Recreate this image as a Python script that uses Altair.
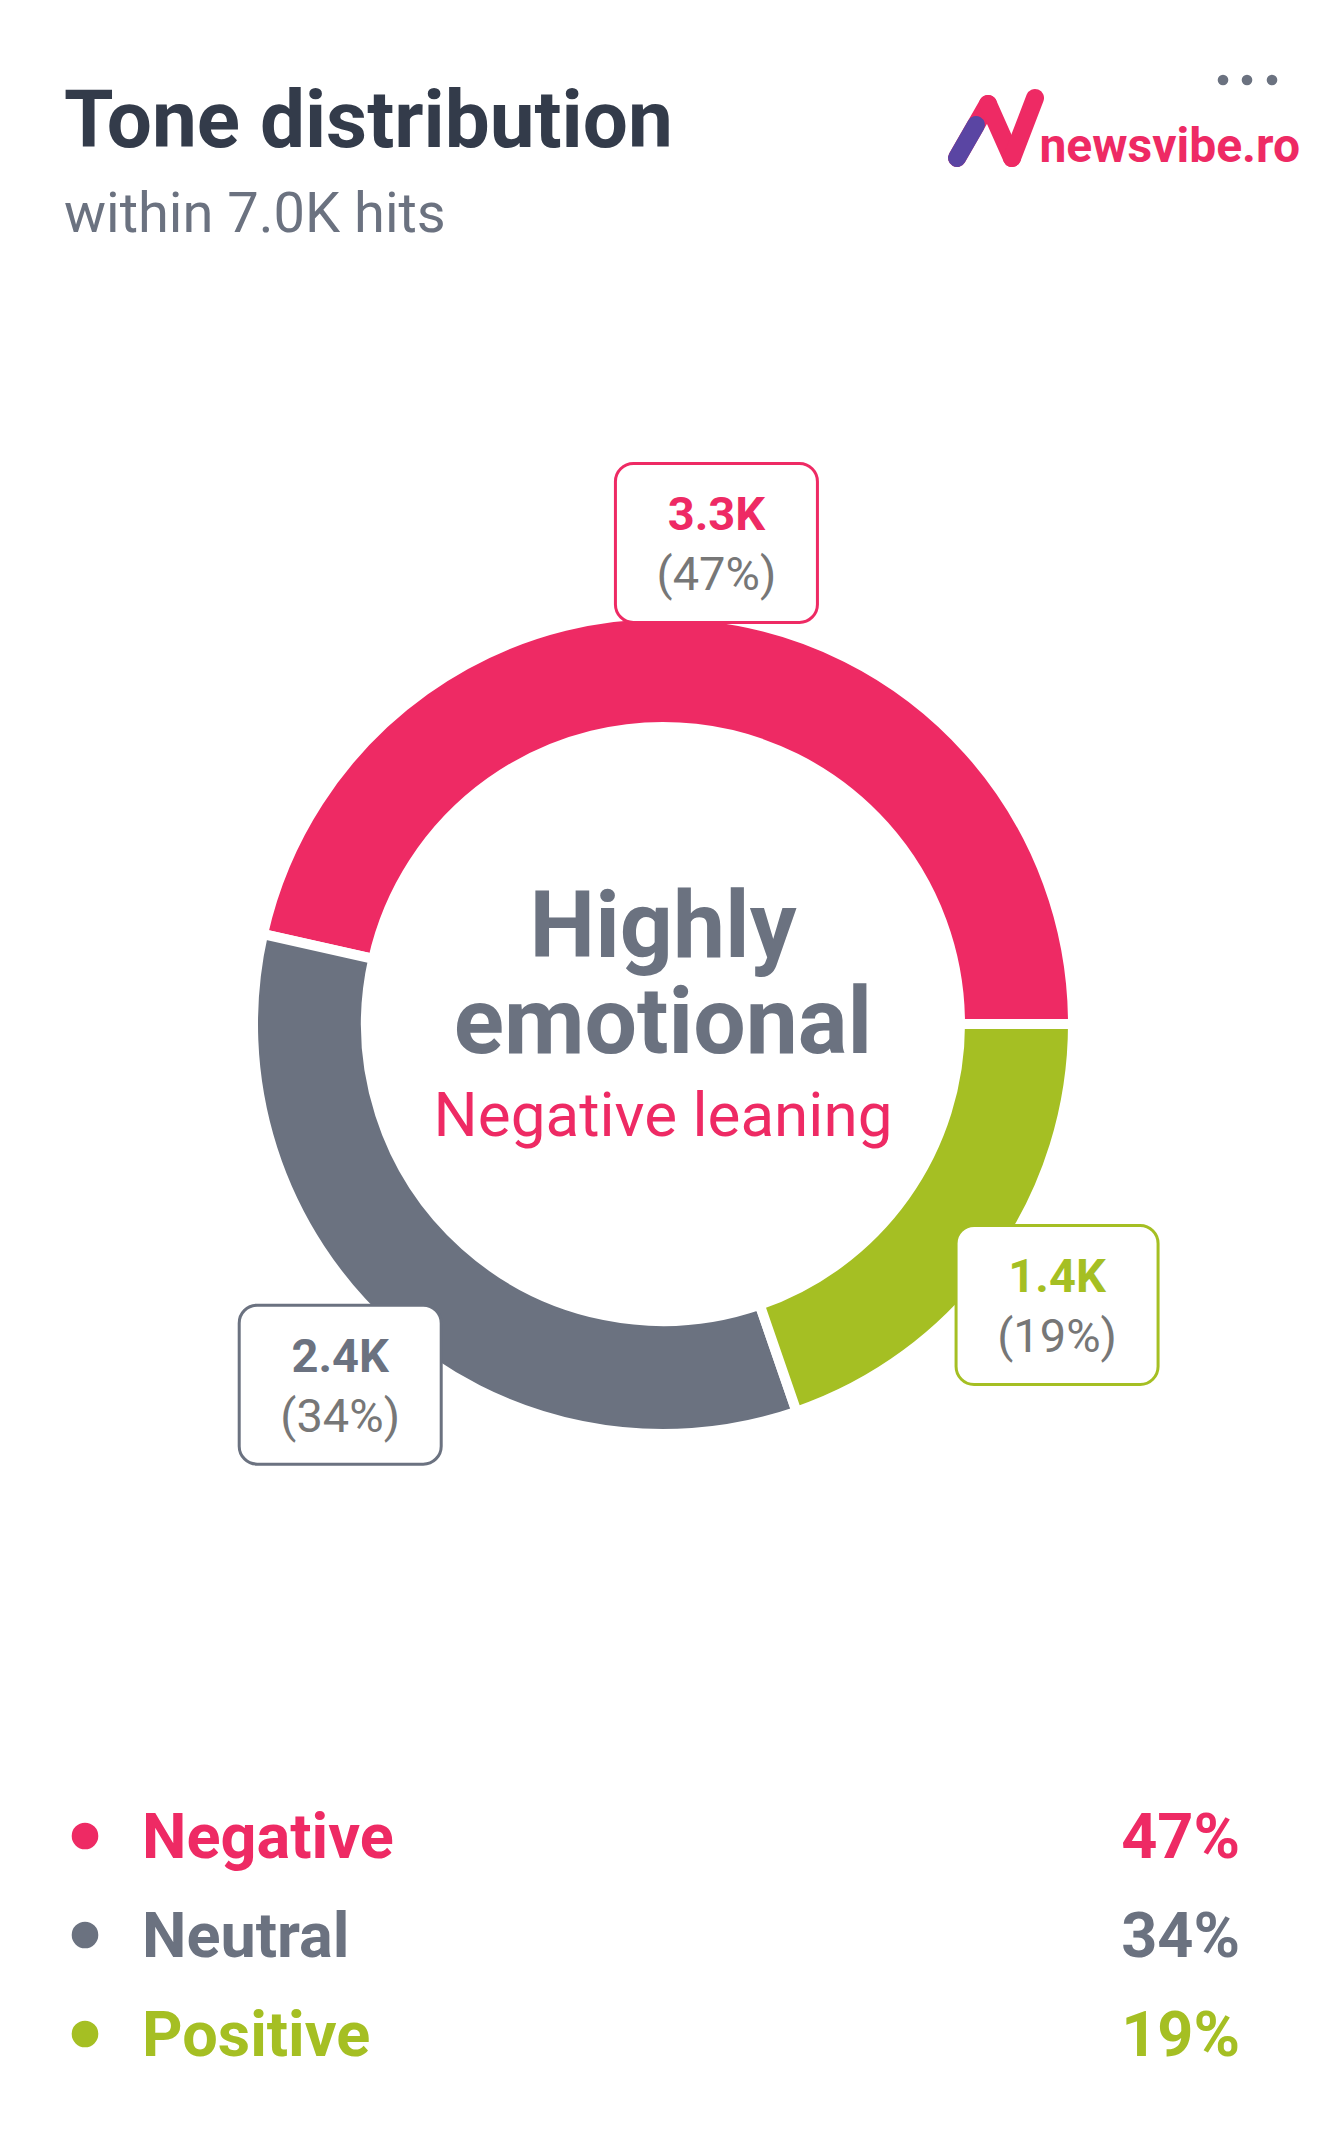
import math
import altair as alt
import pandas as pd

# ---------------- data ----------------
tones = ["Negative", "Neutral", "Positive"]
counts_k = [3.3, 2.4, 1.4]
count_labels = ["3.3K", "2.4K", "1.4K"]
pcts = [47, 34, 19]
colors = ["#EE2A64", "#6B7280", "#A5BF23"]
ring_order = [2, 1, 0]  # clockwise from 3 o'clock: Positive, Neutral, Negative

title_text = "Tone distribution"
subtitle_text = "within 7.0K hits"
center_lines = ["Highly", "emotional"]
center_sub = "Negative leaning"
logo_text = "newsvibe.ro"

# ---------------- layout ----------------
OFF = 8
W, H = 1312, 2125
CX, CY = 663, 1024
R_OUT, R_IN = 410, 297
R_LABEL = 484
BOX_W, BOX_H = 202, 159
FONT = "Roboto"
DARK = "#333B4A"
GRAY = "#6B7280"
PCT_GRAY = "#777777"
PINK = colors[0]

df = pd.DataFrame({"tone": tones, "count": counts_k, "label": count_labels,
                   "pct": pcts, "ord": ring_order})
df["pct_label"] = ["(" + str(p) + "%)" for p in df["pct"]]
ring = df.sort_values("ord").reset_index(drop=True)
total = ring["count"].sum()
mid = (ring["count"].cumsum() - ring["count"] / 2) / total
ang = math.pi / 2 + mid * 2 * math.pi
ring["bx"] = CX + R_LABEL * ang.apply(math.sin)
ring["by"] = CY - R_LABEL * ang.apply(math.cos)
ring["x1"] = ring["bx"] - BOX_W / 2
ring["x2"] = ring["bx"] + BOX_W / 2
ring["y1"] = ring["by"] - BOX_H / 2
ring["y2"] = ring["by"] + BOX_H / 2
ring["ty"] = ring["by"] - 13
ring["py"] = ring["by"] + 47

legend = df.copy()
legend["row"] = range(len(legend))
legend["base_y"] = 1858 + legend["row"] * 99
legend["dot_y"] = legend["base_y"] - 22

xs = alt.Scale(domain=[OFF, OFF + W], range=[0, W], nice=False, zero=False)
ys = alt.Scale(domain=[OFF, OFF + H], range=[0, H], nice=False, zero=False)
cscale = alt.Scale(domain=tones, range=colors)

one = pd.DataFrame({"k": [0]})


def text_layer(txt, x, y, size, weight, color, align="left", font=FONT, italic=False):
    return alt.Chart(pd.DataFrame({"t": [txt]})).mark_text(
        font=font, fontSize=size, fontWeight=weight, color=color, align=align,
        baseline="alphabetic", fontStyle="italic" if italic else "normal",
    ).encode(x=alt.value(x - OFF), y=alt.value(y - OFF), text="t:N")


def rule_layer(x, y, x2, y2, color, width):
    return alt.Chart(one).mark_rule(color=color, strokeWidth=width, strokeCap="round").encode(
        x=alt.value(x - OFF), y=alt.value(y - OFF), x2=alt.value(x2 - OFF), y2=alt.value(y2 - OFF))


def dot_layer(x, y, color, d):
    return alt.Chart(one).mark_circle(color=color, opacity=1, size=math.pi * (d / 2) ** 2).encode(
        x=alt.value(x - OFF), y=alt.value(y - OFF))


# header
title = text_layer(title_text, 64, 147, 80, "bold", DARK)
subtitle = text_layer(subtitle_text, 64, 232, 56, "normal", GRAY)
logo = text_layer(logo_text, 1300, 162, 48, "bold", PINK, align="right")
n_left = rule_layer(957, 158, 988, 104, PINK, 18)
n_left_p = rule_layer(957, 158, 976, 125, "#5A45A3", 18)
n_diag = rule_layer(988, 104, 1012, 158, PINK, 18)
n_right = rule_layer(1012, 158, 1035, 98, PINK, 18)
dots = [dot_layer(x, 80, GRAY, 12) for x in (1223, 1247, 1272)]

# donut
arc = alt.Chart(df).mark_arc(innerRadius=R_IN, outerRadius=R_OUT, stroke="white",
                             strokeWidth=10).encode(
    theta=alt.Theta("count:Q", stack=True,
                    scale=alt.Scale(range=[math.pi / 2, math.pi / 2 + 2 * math.pi])),
    color=alt.Color("tone:N", scale=cscale, legend=None),
    order=alt.Order("ord:Q"),
    x=alt.value(CX - OFF), y=alt.value(CY - OFF),
)

boxes = alt.Chart(ring).mark_rect(fill="white", strokeWidth=3, cornerRadius=18).encode(
    x=alt.X("x1:Q", scale=xs, axis=None), x2="x2:Q",
    y=alt.Y("y1:Q", scale=ys, axis=None), y2="y2:Q",
    stroke=alt.Stroke("tone:N", scale=cscale, legend=None),
)
box_val = alt.Chart(ring).mark_text(font=FONT, fontSize=47, fontWeight="bold",
                                    baseline="alphabetic", align="center").encode(
    x=alt.X("bx:Q", scale=xs, axis=None), y=alt.Y("ty:Q", scale=ys, axis=None),
    text="label:N", color=alt.Color("tone:N", scale=cscale, legend=None),
)
box_pct = alt.Chart(ring).mark_text(font=FONT, fontSize=47, color=PCT_GRAY,
                                    baseline="alphabetic", align="center").encode(
    x=alt.X("bx:Q", scale=xs, axis=None), y=alt.Y("py:Q", scale=ys, axis=None),
    text="pct_label:N",
)

c1 = text_layer(center_lines[0], CX, 957, 93, "bold", GRAY, align="center")
c2 = text_layer(center_lines[1], CX, 1053, 93, "bold", GRAY, align="center")
c3 = text_layer(center_sub, CX, 1136, 62, "normal", PINK, align="center")

# legend
leg_dot = alt.Chart(legend).mark_circle(size=math.pi * 15 ** 2, opacity=1).encode(
    x=alt.value(85 - OFF), y=alt.Y("dot_y:Q", scale=ys, axis=None),
    color=alt.Color("tone:N", scale=cscale, legend=None),
)
leg_lab = alt.Chart(legend).mark_text(font=FONT, fontSize=63, fontWeight="bold",
                                      align="left", baseline="alphabetic").encode(
    x=alt.value(142 - OFF), y=alt.Y("base_y:Q", scale=ys, axis=None),
    text="tone:N", color=alt.Color("tone:N", scale=cscale, legend=None),
)
leg_pct = alt.Chart(legend).mark_text(font=FONT, fontSize=63, fontWeight="bold",
                                      align="right", baseline="alphabetic").encode(
    x=alt.value(1240 - OFF), y=alt.Y("base_y:Q", scale=ys, axis=None),
    text=alt.Text("pct_str:N"), color=alt.Color("tone:N", scale=cscale, legend=None),
).transform_calculate(pct_str="datum.pct + '%'")

chart = alt.layer(
    title, subtitle, logo, n_left, n_left_p, n_diag, n_right, *dots,
    arc, boxes, box_val, box_pct, c1, c2, c3,
    leg_dot, leg_lab, leg_pct,
).properties(
    width=W, height=H, autosize=alt.AutoSizeParams(type="none"), padding=0,
    background="white",
).configure_view(stroke=None)

chart.save("out.html", embed_options={"renderer": "svg", "actions": False})
